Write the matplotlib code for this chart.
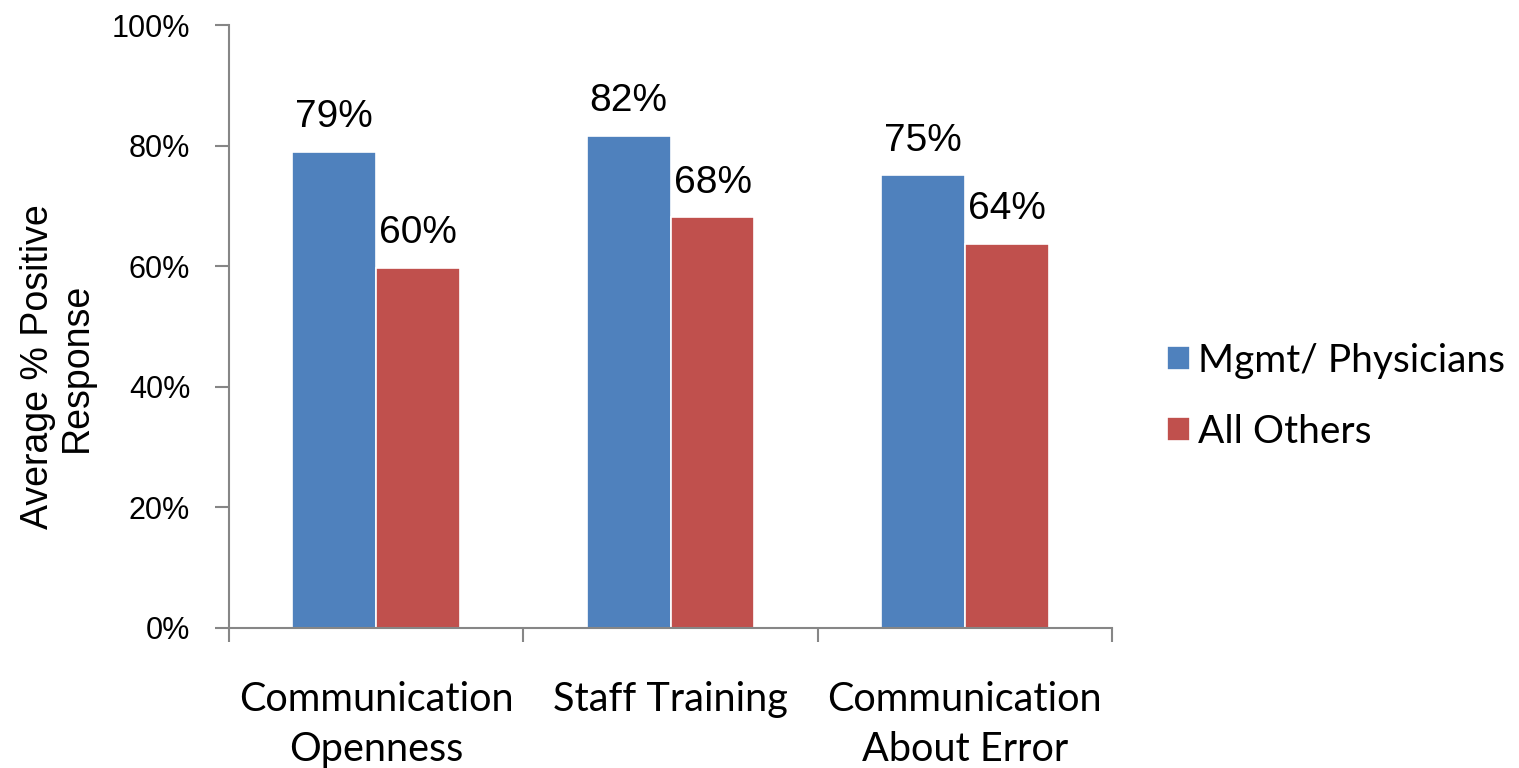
import matplotlib.pyplot as plt
import numpy as np

# Data
categories = ["Communication\nOpenness", "Staff Training", "Communication\nAbout Error"]
mgmt = [0.79, 0.816, 0.751]
others = [0.597, 0.681, 0.637]
mgmt_labels = ["79%", "82%", "75%"]
others_labels = ["60%", "68%", "64%"]
series_names = ["Mgmt/ Physicians", "All Others"]

blue = "#4F81BD"
red = "#C0504D"
axis_grey = "#868686"

fig = plt.figure(figsize=(15.19, 7.68), dpi=100)
ax = fig.add_axes([0.1508, 0.1823, 0.5813, 0.7851])

x = np.arange(len(categories))
w = 0.285
b1 = ax.bar(x - w / 2, mgmt, w, color=blue, edgecolor="white", linewidth=1.2, label=series_names[0])
b2 = ax.bar(x + w / 2, others, w, color=red, edgecolor="white", linewidth=1.2, label=series_names[1])

for bars, labels in ((b1, mgmt_labels), (b2, others_labels)):
    for rect, lab in zip(bars, labels):
        ax.annotate(lab, (rect.get_x() + rect.get_width() / 2, rect.get_height()),
                    xytext=(0, 12), textcoords="offset points", ha="center", va="bottom",
                    fontsize=28, family="Liberation Sans")

ax.set_xlim(-0.5, 2.5)
ax.set_ylim(0, 1.0)
ax.set_yticks(np.arange(0, 1.01, 0.2))
ax.set_yticklabels([f"{int(round(v * 100))}%" for v in np.arange(0, 1.01, 0.2)],
                   fontsize=22, family="Liberation Sans")
ax.set_xticks(x)
ax.set_xticklabels(categories, fontsize=28.5, family="Lato", linespacing=1.45)
ax.tick_params(axis="x", which="major", length=0, pad=38)
ax.set_xticks([-0.5, 0.5, 1.5, 2.5], minor=True)
ax.tick_params(axis="x", which="minor", length=10, color=axis_grey, width=1.5, direction="out")
ax.tick_params(axis="y", length=10, color=axis_grey, width=1.5, direction="out", pad=18)

for s in ("top", "right"):
    ax.spines[s].set_visible(False)
for s in ("left", "bottom"):
    ax.spines[s].set_color(axis_grey)
    ax.spines[s].set_linewidth(1.5)

ax.set_ylabel("Average % Positive\nResponse", fontsize=27, family="Liberation Sans",
              linespacing=1.1)
ax.yaxis.set_label_coords(-0.152, 0.433)

leg = fig.legend(loc="center left", bbox_to_anchor=(0.745, 0.484), frameon=False,
                 prop={"family": "Lato", "size": 28}, handlelength=0.6, handleheight=0.6,
                 handletextpad=0.2, labelspacing=0.9)

fig.savefig("out.png", dpi=100)
